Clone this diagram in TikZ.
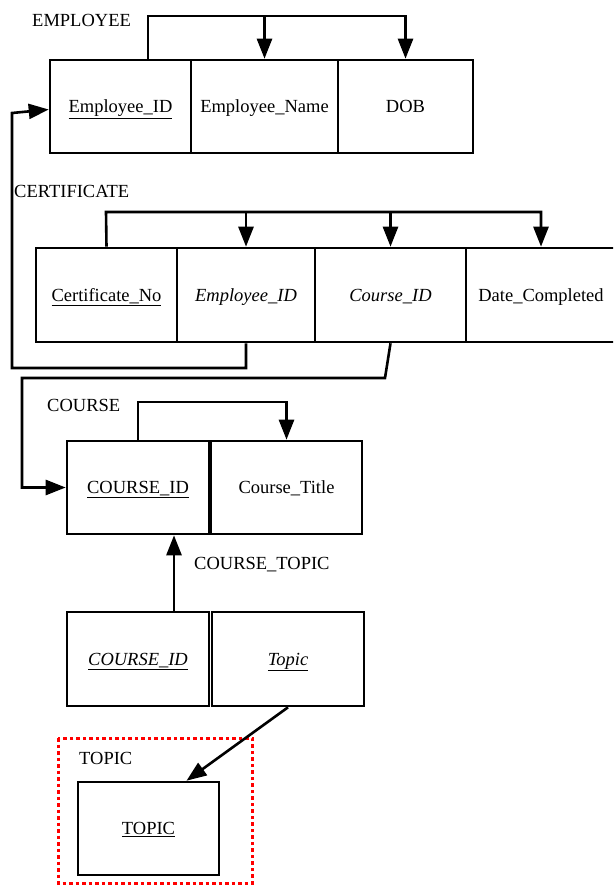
\documentclass[tikz,border=0pt]{standalone}
\usepackage{fontspec}
\setmainfont{Liberation Serif}
\usetikzlibrary{arrows.meta,calc}

\begin{document}
\begin{tikzpicture}[x=1pt,y=-1pt,
    every node/.style={font=\fontsize{18.5}{22}\selectfont},
    cell/.style={draw, line width=2.6pt, inner sep=0pt, minimum height=93pt, text height=12pt, text depth=0pt},
    tname/.style={anchor=west, inner sep=0pt},
    fk/.style={line width=2.6pt, -{Triangle[length=20pt,width=15pt]}}] %Esquema relacional
        \clip (0,0) rectangle (613,885);

        % EMPLOYEE
        \node[tname] (lEmp) at (32,20) {EMPLOYEE};
        \node[cell, minimum width=141pt] (emp1) at (120.5,106.5) {\underline{Employee\_ID}};
        \node[cell, minimum width=147pt] (emp2) at (264.5,106.5) {Employee\_Name};
        \node[cell, minimum width=135pt] (emp3) at (405.5,106.5) {DOB};
        \coordinate (eTop) at (148,16);
        \draw[fk] (eTop |- emp1.north) -- (eTop) -| (emp3.north);
        \draw[fk] (emp2.north |- eTop) -- (emp2.north);

        % CERTIFICATE
        \node[tname] (lCert) at (14,191) {CERTIFICATE};
        \node[cell, minimum width=141pt, minimum height=94pt] (c1) at (106.5,295) {\underline{Certificate\_No}};
        \node[cell, minimum width=138pt, minimum height=94pt] (c2) at (246,295) {\textit{Employee\_ID}};
        \node[cell, minimum width=151pt, minimum height=94pt] (c3) at (390.5,295) {\textit{Course\_ID}};
        \node[cell, minimum width=150pt, minimum height=94pt] (c4) at (541,295) {Date\_Completed};
        \coordinate (cTop) at (106,212);
        \draw[fk] (c1.north) -- (cTop) -| (c4.north);
        \draw[fk] (c2.north |- cTop) -- (c2.north);
        \draw[fk] (c3.north |- cTop) -- (c3.north);

        % COURSE
        \node[tname] (lCourse) at (47,405) {COURSE};
        \node[cell, minimum width=142pt] (co1) at (138,487.5) {\underline{COURSE\_ID}};
        \node[cell, minimum width=151pt] (co2) at (286.5,487.5) {Course\_Title};
        \coordinate (coTop) at (138,402);
        \draw[fk] (co1.north) -- (coTop) -| (co2.north);

        % claves ajenas
        \coordinate (eLoop) at (12,368);
        \coordinate (eUp) at (12,113);
        \draw[fk] (c2.south) |- (eLoop) -- (eUp) -- ($(emp1.west)+(0,3)$);
        \coordinate (cBend) at (385,378);
        \coordinate (cLeft) at (22,378);
        \draw[fk] (c3.south) -- (cBend) -- (cLeft) |- (co1.west);

        % COURSE_TOPIC
        \node[tname] (lCt) at (194,565) {COURSE\_TOPIC};
        \node[cell, minimum width=142pt, minimum height=94pt] (ct1) at (138,659) {\underline{\textit{COURSE\_ID}}};
        \node[cell, minimum width=152pt, minimum height=94pt] (ct2) at (288,659) {\underline{\textit{Topic}}};
        \draw[fk] ($(ct1.north)+(36,0)$) -- ($(co1.south)+(36,0)$);

        % TOPIC
        \draw[red, line width=3pt, dash pattern=on 3.5pt off 3pt] (58,738) rectangle (252,883);
        \node[tname] (lTopic) at (79,758) {TOPIC};
        \node[cell, minimum width=141pt] (t1) at (148.5,828.5) {\underline{TOPIC}};
        \draw[fk] (ct2.south) -- ($(t1.north)+(38,0)$);
    \end{tikzpicture}
\end{document}
